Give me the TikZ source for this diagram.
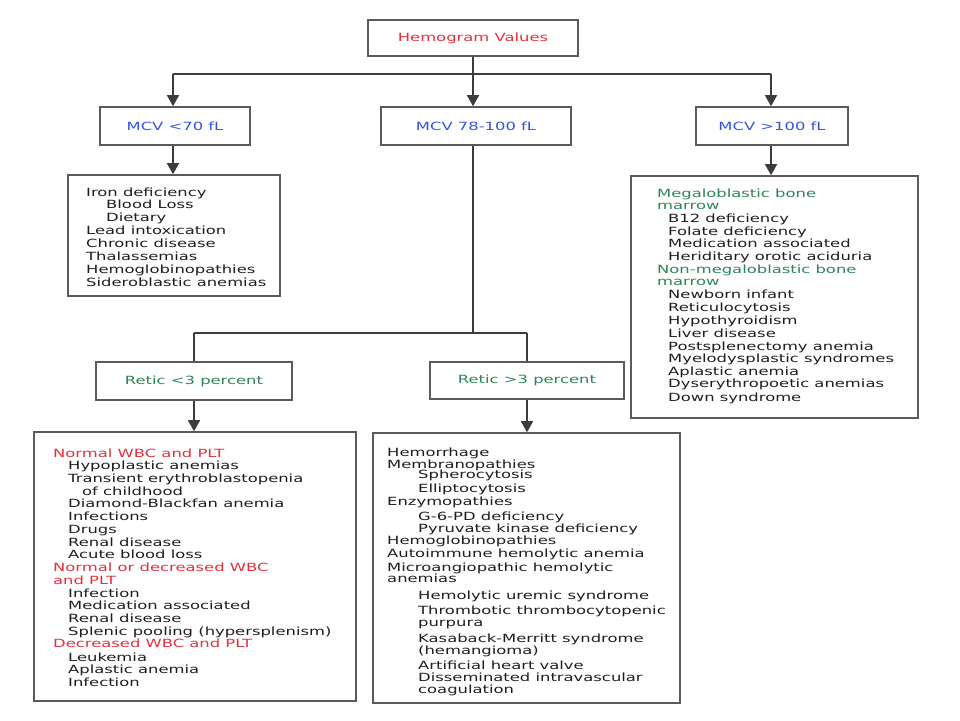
\documentclass[tikz,border=0pt]{standalone}
\usepackage{fontspec}
\setmainfont{DejaVu Sans}[FakeStretch=1.45]
\usetikzlibrary{arrows.meta}
\definecolor{hred}{RGB}{228,48,60}
\definecolor{hblue}{RGB}{51,85,221}
\definecolor{hgreen}{RGB}{46,132,88}
\definecolor{tx}{RGB}{30,30,30}
\definecolor{bord}{RGB}{90,90,90}
\definecolor{conn}{RGB}{60,60,60}
\begin{document}
\begin{tikzpicture}[x=1pt,y=-1pt,
  every node/.style={font=\fontsize{11.3}{13}\selectfont},
  box/.style={draw=bord,line width=1.6pt,fill=white,inner sep=0pt},
  txt/.style={inner sep=0pt,anchor=base west},
  conline/.style={draw=conn,line width=1.6pt},
  arr/.style={conline,-{Triangle[width=12pt,length=11pt]}}]
\useasboundingbox (0,0) rectangle (960,720);
% top level
\node[box,minimum width=210,minimum height=36,text=hred] (hem) at (473,38) {Hemogram Values};
\node[box,minimum width=150,minimum height=38,text=hblue] (lo) at (175,126) {MCV <70 fL};
\node[box,minimum width=190,minimum height=38,text=hblue] (mid) at (476,126) {MCV 78-100 fL};
\node[box,minimum width=152,minimum height=38,text=hblue] (hi) at (772,126) {MCV >100 fL};
% list boxes
\node[box,minimum width=212,minimum height=121] (lolist) at (174,235.5) {};
\node[box,minimum width=287,minimum height=242] (hilist) at (774.5,297) {};
% retic boxes
\node[box,minimum width=196,minimum height=38,text=hgreen] (rlo) at (194,381) {Retic <3 percent};
\node[box,minimum width=194,minimum height=37,text=hgreen] (rhi) at (527,380.5) {Retic >3 percent};
% bottom boxes
\node[box,minimum width=322,minimum height=269] (blist) at (195,566.5) {};
\node[box,minimum width=307,minimum height=270] (brlist) at (526.5,568) {};
% junctions
\coordinate (j1) at (473,74);
\coordinate (jl) at (173,74);
\coordinate (jr) at (771,74);
\coordinate (jm) at (473,333);
\coordinate (jml) at (194,333);
\coordinate (jmr) at (527,333);
% connectors
\draw[conline] (hem.south -| j1) -- (j1);
\draw[conline] (jl) -- (jr);
\draw[arr] (jl) -- (jl |- lo.north);
\draw[arr] (j1) -- (j1 |- mid.north);
\draw[arr] (jr) -- (jr |- hi.north);
\draw[arr] (jl |- lo.south) -- (jl |- lolist.north);
\draw[arr] (jr |- hi.south) -- (jr |- hilist.north);
\draw[conline] (j1 |- mid.south) -- (jm);
\draw[conline] (jml) -- (jmr);
\draw[conline] (jml) -- (jml |- rlo.north);
\draw[conline] (jmr) -- (jmr |- rhi.north);
\draw[arr] (jml |- rlo.south) -- (jml |- blist.north);
\draw[arr] (jmr |- rhi.south) -- (jmr |- brlist.north);
% texts
\foreach \x/\y/\c/\t [count=\i] in {
 86/192/tx/Iron deficiency,
 106/204/tx/Blood Loss,
 106/217/tx/Dietary,
 86/230/tx/Lead intoxication,
 86/243/tx/Chronic disease,
 86/256/tx/Thalassemias,
 86/269/tx/Hemoglobinopathies,
 86/282/tx/Sideroblastic anemias}
 \node[txt,text=\c] (a\i) at (\x,\y+4) {\t};
\foreach \x/\y/\c/\t [count=\i] in {
 657/193/hgreen/Megaloblastic bone,
 657/205/hgreen/marrow,
 668/218/tx/B12 deficiency,
 668/231/tx/Folate deficiency,
 668/243/tx/Medication associated,
 668/256/tx/Heriditary orotic aciduria,
 657/269/hgreen/Non-megaloblastic bone,
 657/281/hgreen/marrow,
 668/294/tx/Newborn infant,
 668/307/tx/Reticulocytosis,
 668/320/tx/Hypothyroidism,
 668/333/tx/Liver disease,
 668/346/tx/Postsplenectomy anemia,
 668/358/tx/Myelodysplastic syndromes,
 668/371/tx/Aplastic anemia,
 668/383/tx/Dyserythropoetic anemias,
 668/397/tx/Down syndrome}
 \node[txt,text=\c] (b\i) at (\x,\y+4) {\t};
\foreach \x/\y/\c/\t [count=\i] in {
 53/453/hred/Normal WBC and PLT,
 68/465/tx/Hypoplastic anemias,
 68/478/tx/Transient erythroblastopenia,
 82/491/tx/of childhood,
 68/503/tx/Diamond-Blackfan anemia,
 68/516/tx/Infections,
 68/529/tx/Drugs,
 68/542/tx/Renal disease,
 68/554/tx/Acute blood loss,
 53/567/hred/Normal or decreased WBC,
 53/580/hred/and PLT,
 68/593/tx/Infection,
 68/605/tx/Medication associated,
 68/618/tx/Renal disease,
 68/631/tx/Splenic pooling (hypersplenism),
 53/643/hred/Decreased WBC and PLT,
 68/657/tx/Leukemia,
 68/669/tx/Aplastic anemia,
 68/682/tx/Infection}
 \node[txt,text=\c] (c\i) at (\x,\y+4) {\t};
\foreach \x/\y/\c/\t [count=\i] in {
 387/452/tx/Hemorrhage,
 387/464/tx/Membranopathies,
 418/474/tx/Spherocytosis,
 418/488/tx/Elliptocytosis,
 387/501/tx/Enzymopathies,
 418/516/tx/G-6-PD deficiency,
 418/528/tx/Pyruvate kinase deficiency,
 387/540/tx/Hemoglobinopathies,
 387/553/tx/Autoimmune hemolytic anemia,
 387/567/tx/Microangiopathic hemolytic,
 387/578/tx/anemias,
 418/595/tx/Hemolytic uremic syndrome,
 418/610/tx/Thrombotic thrombocytopenic,
 418/622/tx/purpura,
 418/638/tx/Kasaback-Merritt syndrome,
 418/650/tx/(hemangioma),
 418/665/tx/Artificial heart valve,
 418/677/tx/Disseminated intravascular,
 418/689/tx/coagulation}
 \node[txt,text=\c] (d\i) at (\x,\y+4) {\t};
\end{tikzpicture}
\end{document}
